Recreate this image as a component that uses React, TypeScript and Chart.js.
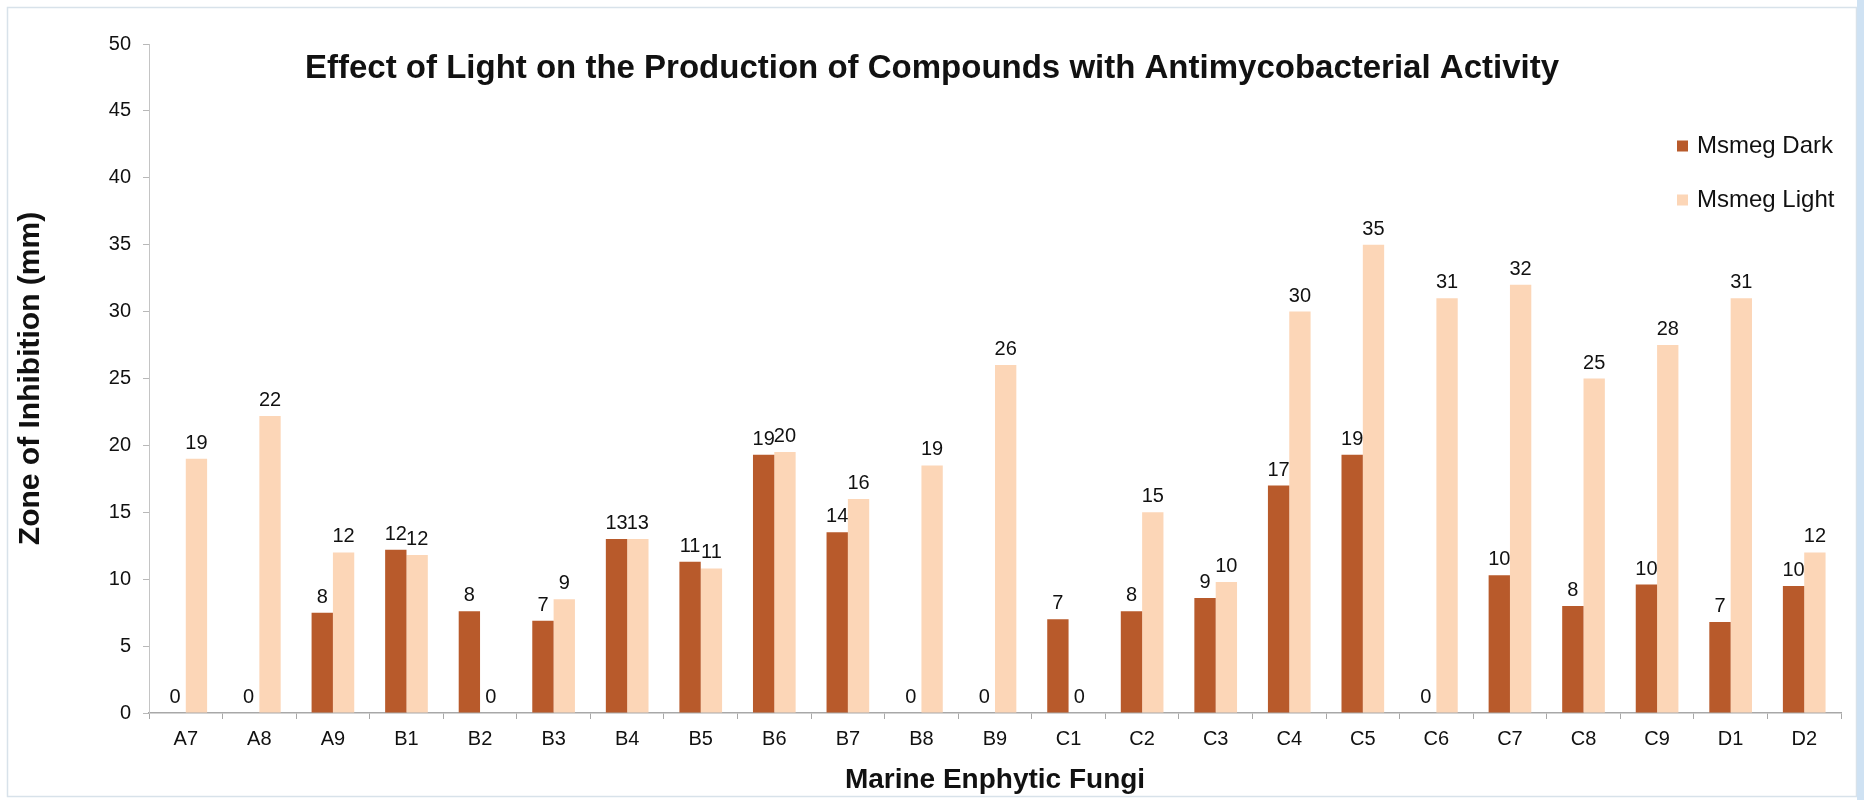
import React, { useEffect, useRef } from "react";
import { Chart, registerables } from "chart.js";

Chart.register(...registerables);

const categories = ["A7", "A8", "A9", "B1", "B2", "B3", "B4", "B5", "B6", "B7", "B8", "B9", "C1", "C2", "C3", "C4", "C5", "C6", "C7", "C8", "C9", "D1", "D2"];
const darkValues = [0, 0, 7.5, 12.2, 7.6, 6.9, 13, 11.3, 19.3, 13.5, 0, 0, 7, 7.6, 8.6, 17, 19.3, 0, 10.3, 8, 9.6, 6.8, 9.5];
const lightValues = [19, 22.2, 12, 11.8, 0, 8.5, 13, 10.8, 19.5, 16, 18.5, 26, 0, 15, 9.8, 30, 35, 31, 32, 25, 27.5, 31, 12];
const seriesNames = ["Msmeg Dark", "Msmeg Light"];
const seriesColors = ["#b85a2b", "#fcd6b7"];
const titleText = "Effect of Light on the Production of Compounds with Antimycobacterial Activity";
const xTitle = "Marine Enphytic Fungi";
const yTitle = "Zone of Inhibition (mm)";
const yMin = 0;
const yMax = 50;
const yStep = 5;

const FONT = "'Liberation Sans', Arial, sans-serif";

const framePlugin = {
  id: "frame",
  beforeDraw(chart: any) {
    const ctx = chart.ctx;
    const w = chart.width;
    const h = chart.height;
    ctx.save();
    ctx.fillStyle = "#ffffff";
    ctx.fillRect(0, 0, w, h);
    ctx.strokeStyle = "#d8e2ea";
    ctx.lineWidth = 1.5;
    ctx.strokeRect(7.5, 7.5, w - 15, h - 11);
    ctx.fillStyle = "#cfe2f3";
    ctx.fillRect(w - 7, 0, 7, h);
    ctx.restore();
  },
};

const annotPlugin = {
  id: "annot",
  afterDatasetsDraw(chart: any) {
    const ctx = chart.ctx;
    ctx.save();
    ctx.fillStyle = "#111111";
    ctx.font = `20px ${FONT}`;
    ctx.textAlign = "center";
    ctx.textBaseline = "alphabetic";
    chart.data.datasets.forEach((ds: any, di: number) => {
      const meta = chart.getDatasetMeta(di);
      meta.data.forEach((el: any, i: number) => {
        const v = ds.data[i];
        ctx.fillText(String(Math.round(v)), el.x, el.y - 10);
      });
    });
    // title
    ctx.font = `bold 33px ${FONT}`;
    ctx.textBaseline = "middle";
    ctx.fillText(titleText, chart.width / 2, 69);
    // legend
    const area = chart.chartArea;
    const lx = area.right - 164;
    const ly = [146, 200];
    ctx.font = `24px ${FONT}`;
    ctx.textAlign = "left";
    seriesNames.forEach((name, i) => {
      ctx.fillStyle = seriesColors[i];
      ctx.fillRect(lx, ly[i] - 5.5, 11, 11);
      ctx.fillStyle = "#111111";
      ctx.fillText(name, lx + 20, ly[i]);
    });
    ctx.restore();
  },
};

export default function App() {
  const ref = useRef<HTMLCanvasElement | null>(null);
  useEffect(() => {
    if (!ref.current) return;
    const chart = new Chart(ref.current, {
      type: "bar",
      data: {
        labels: categories,
        datasets: [
          { label: seriesNames[0], data: darkValues, backgroundColor: seriesColors[0], borderWidth: 0 },
          { label: seriesNames[1], data: lightValues, backgroundColor: seriesColors[1], borderWidth: 0 },
        ],
      },
      options: {
        animation: false,
        responsive: false,
        devicePixelRatio: 1,
        layout: { padding: { left: 0, top: 44, right: 23, bottom: 0 } },
        datasets: { bar: { barPercentage: 1, categoryPercentage: 0.58 } },
        plugins: {
          legend: { display: false },
          title: { display: false },
          tooltip: { enabled: false },
        },
        scales: {
          x: {
            afterFit: (s: any) => { s.height = 87; },
            grid: { drawOnChartArea: false, drawTicks: true, tickLength: 6, color: "#a8a8a8", offset: true },
            border: { color: "#a8a8a8", width: 1.5 },
            ticks: { color: "#111111", font: { family: FONT, size: 20 }, padding: 8 },
            title: { display: true, text: xTitle, color: "#111111", font: { family: FONT, size: 28, weight: "bold" }, padding: { top: 0, bottom: 3 } },
          },
          y: {
            min: yMin,
            max: yMax,
            afterFit: (s: any) => { s.width = 149; },
            grid: { drawOnChartArea: false, drawTicks: true, tickLength: 6, color: "#b8b8b8" },
            border: { color: "#c4c4c4", width: 1 },
            ticks: { stepSize: yStep, color: "#111111", font: { family: FONT, size: 20 }, padding: 12 },
            title: { display: true, text: yTitle, color: "#111111", font: { family: FONT, size: 30, weight: "bold" }, padding: { top: 13, bottom: 0 } },
          },
        },
      },
      plugins: [framePlugin, annotPlugin],
    });
    return () => chart.destroy();
  }, []);
  return (
    <canvas
      ref={ref}
      width={1864}
      height={800}
      style={{ position: "fixed", left: 0, top: 0, width: 1864, height: 800, display: "block" }}
    />
  );
}
